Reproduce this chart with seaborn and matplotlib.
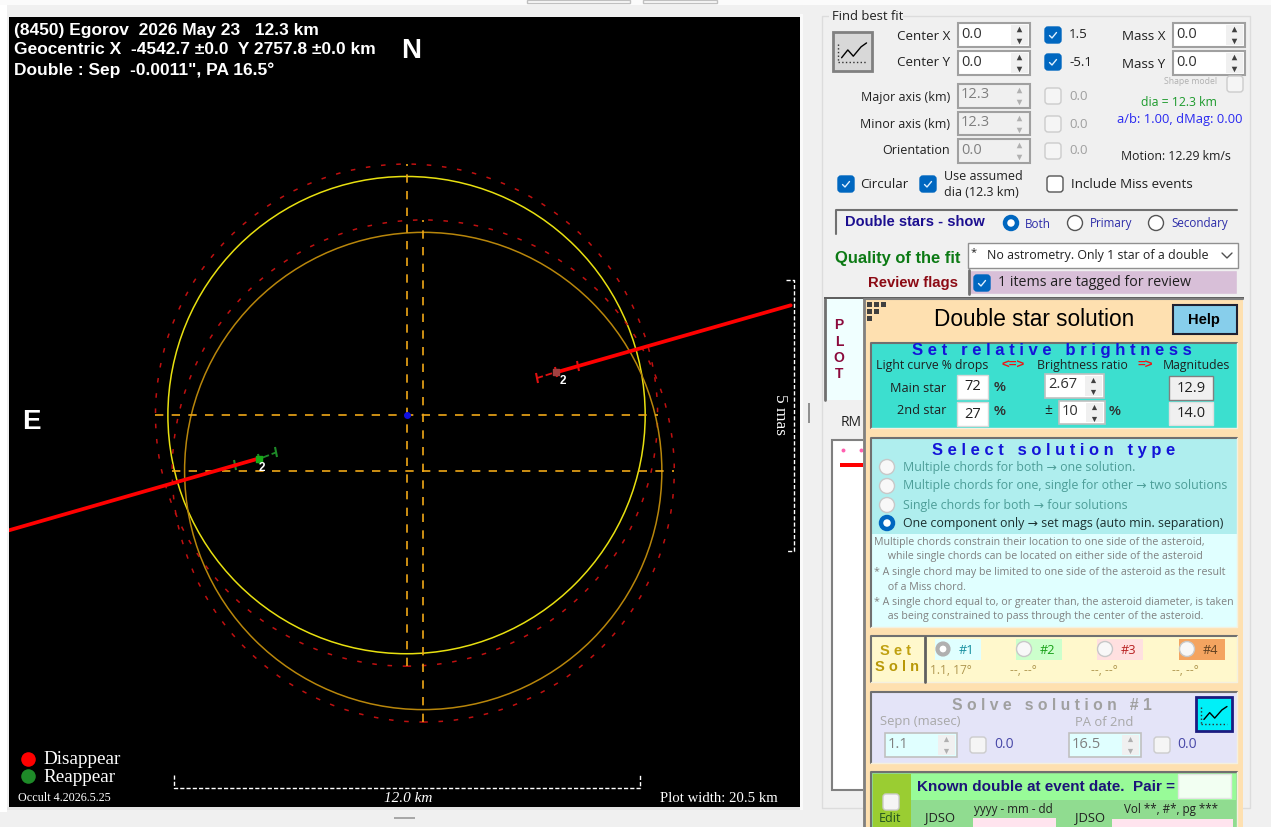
import pandas as pd
import seaborn as sns
import matplotlib.pyplot as plt
from matplotlib.markers import MarkerStyle
from matplotlib.patches import Circle, Rectangle, FancyBboxPatch
from matplotlib.transforms import Affine2D

# --- chart values, all km from the centre of the first asteroid outline
CENTER_X = [0.0, 0.43]
CENTER_Y = [0.0, -1.44]
ASTEROID_RADIUS = 6.15
OUTER_RADIUS = 6.47
CHORD_D_X = [-10.25, -3.85]
CHORD_D_Y = [-2.97, -1.13]
CHORD_R_X = [3.85, 9.9]
CHORD_R_Y = [1.1, 2.83]
ERR_GREEN_X = [-4.42, -3.8, -3.36]
ERR_GREEN_Y = [-1.29, -1.13, -0.96]
ERR_RED_X = [3.35, 3.85, 4.43]
ERR_RED_Y = [0.95, 1.11, 1.27]
SCALE_KM = 12.0
MAS_BAR = [-3.5, 3.48]

HEADER = ["(8450) Egorov  2026 May 23   12.3 km",
          "Geocentric X  -4542.7 ±0.0  Y 2757.8 ±0.0 km",
          "Double : Sep  -0.0011\", PA 16.5°"]
RADIO_TEXT = ["Multiple chords for both → one solution.",
              "Multiple chords for one, single for other → two solutions",
              "Single chords for both → four solutions",
              "One component only → set mags (auto min. separation)"]
NOTES = ["Multiple chords constrain their location to one side of the asteroid,",
         "     while single chords can be located on either side of the asteroid",
         "* A single chord may be limited to one side of the asteroid as the result",
         "     of a Miss chord.",
         "* A single chord equal to, or greater than, the asteroid diameter, is taken",
         "     as being constrained to pass through the center of the asteroid."]

W, H = 1271, 827
sns.set_theme(style="white")
plt.rcParams['font.family'] = ['Open Sans', 'DejaVu Sans']

fig = plt.figure(figsize=(W / 100, H / 100), dpi=100, facecolor="#f0f0f0")

# plot area, in km
ax = fig.add_axes([9 / W, 1 - 807 / H, 791 / W, 790 / H])
ax.set_facecolor("black")
ax.set_xlim(-10.245, 10.14)
ax.set_ylim(-10.10, 10.26)
ax.set_xticks([])
ax.set_yticks([])
for s in ax.spines.values():
    s.set_visible(False)

for cx, cy, col in zip(CENTER_X, CENTER_Y, ["#e8e010", "#b8860b"]):
    ax.add_patch(Circle((cx, cy), ASTEROID_RADIUS, fill=False, ec=col, lw=1.1))
    ax.add_patch(Circle((cx, cy), OUTER_RADIUS, fill=False, ec="#c01010", lw=1.1, ls=(0, (3, 7))))
    for xs, ys in [([cx - OUTER_RADIUS, cx + OUTER_RADIUS], [cy, cy]),
                   ([cx, cx], [cy - OUTER_RADIUS, cy + OUTER_RADIUS])]:
        ax.plot(xs, ys, color="#f0a818", lw=1.2, ls=(0, (5, 5)))

ax.scatter([CENTER_X[0]], [CENTER_Y[0]], s=16, color="#1010e0", zorder=4)

# error bars are ticked square to the chord
tick = MarkerStyle("|", transform=Affine2D().rotate_deg(16))
err = pd.DataFrame({"x": ERR_GREEN_X, "y": ERR_GREEN_Y})
sns.lineplot(data=err, x="x", y="y", ax=ax, color="#1e8a28", lw=1.3, ls="--",
             marker=tick, ms=7, mew=1.5, mec="#1e8a28", estimator=None, sort=False)
err = pd.DataFrame({"x": ERR_RED_X, "y": ERR_RED_Y})
sns.lineplot(data=err, x="x", y="y", ax=ax, color="#e01010", lw=1.3, ls="--",
             marker=tick, ms=7, mew=1.5, mec="#e01010", estimator=None, sort=False)
for xs, ys in [(CHORD_D_X, CHORD_D_Y), (CHORD_R_X, CHORD_R_Y)]:
    sns.lineplot(x=xs, y=ys, ax=ax, color="#ff0000", lw=2.7, estimator=None, sort=False)
ax.scatter([CHORD_D_X[1] + 0.05], [CHORD_D_Y[1]], marker="s", s=20, color="#18a818", zorder=5)
ax.scatter([CHORD_R_X[0]], [CHORD_R_Y[0]], marker="s", s=14, color="#a04040", zorder=5)
ax.set_xlabel("")
ax.set_ylabel("")

# 12 km scale bar and 5 mas bar
sx = [-5.99, -5.99, -5.99 + SCALE_KM, -5.99 + SCALE_KM]
sy = [-9.27, -9.6, -9.6, -9.27]
ax.plot(sx, sy, color="white", lw=1, ls=(0, (3, 1.5)))
mx = [9.78, 9.98, 9.98, 9.78]
ax.plot(mx, [MAS_BAR[1], MAS_BAR[1], MAS_BAR[0], MAS_BAR[0]], color="white", lw=1, ls=(0, (3, 1.5)))

# everything else is placed in screen pixels on a full-figure overlay
ui = fig.add_axes([0, 0, 1, 1], facecolor="none")
ui.set_xlim(0, W)
ui.set_ylim(H, 0)
ui.axis("off")


def box(x0, y0, x1, y1, fc="white", ec="none", lw=1.0, z=2):
    ui.add_patch(Rectangle((x0, y0), x1 - x0, y1 - y0, fc=fc, ec=ec, lw=lw, zorder=z))


def txt(x, y, s, size=9.6, color="#202020", weight="normal", ha="left", family=None, z=8, **kw):
    fam = family if family else ['Open Sans', 'DejaVu Sans']
    ui.text(x, y, s, fontsize=size, color=color, fontweight=weight, ha=ha, va="center",
            family=fam, zorder=z, **kw)


SANS = ['Liberation Sans', 'DejaVu Sans']
SERIF = ['Liberation Serif', 'DejaVu Serif']


def check(x, y, on=False, enabled=True, z=5):
    fc = "#0067c0" if on else ("white" if enabled else "#f5f5f5")
    ec = "#0067c0" if on else ("#555555" if enabled else "#cccccc")
    ui.add_patch(FancyBboxPatch((x + 2, y + 2), 12, 12, boxstyle="round,pad=2,rounding_size=3",
                                fc=fc, ec=ec, lw=1, zorder=z))
    if on:
        ui.plot([x + 4.5, x + 7, x + 11.5], [y + 8.5, y + 11, y + 5.5], color="#dff0ff", lw=1, zorder=z + 1)


def radio(cx, cy, on=False, color="#0067c0", enabled=True):
    if on:
        ui.add_patch(Circle((cx, cy), 6, fc="white", ec=color, lw=3.2, zorder=7))
    else:
        ui.add_patch(Circle((cx, cy), 7.5, fc="#f8f8f8" if not enabled else "white",
                            ec="#c8c8c8" if not enabled else "#555555", lw=1, zorder=7))


def spin(x0, y0, x1, y1, s, enabled=True, fc="white", tc=None):
    box(x0, y0, x1, y1, fc=fc if enabled else "#f0f0f0", ec="#a0a0a0", lw=1.5, z=3)
    col = "#808080" if not enabled else "#303030"
    box(x1 - 19, y0 + 2, x1 - 2, y1 - 2, fc="#f0f0f0", z=4)
    mid = (y0 + y1) / 2
    acol = "#b0b0b0" if not enabled else "#404040"
    ui.scatter([x1 - 11], [mid - 6], marker="^", s=16, color=acol, zorder=5, lw=0)
    ui.scatter([x1 - 11], [mid + 6], marker="v", s=16, color=acol, zorder=5, lw=0)
    txt(x0 + 3, mid - 1, s, size=10.5, color=tc or col)


def chart_icon(x0, y0, x1, y1, fc, ec, lw, z=4):
    box(x0, y0, x1, y1, fc=fc, ec=ec, lw=lw, z=z)
    w, h = x1 - x0, y1 - y0
    ui.plot([x0 + w * f for f in (0.22, 0.38, 0.52, 0.72, 0.86)],
            [y0 + h * f for f in (0.66, 0.46, 0.62, 0.38, 0.28)], color="black", lw=1, zorder=z + 1)
    ui.plot([x0 + w * 0.14] * 2, [y0 + h * 0.3, y0 + h * 0.78], color="#303030", lw=1, ls=":", zorder=z + 1)
    ui.plot([x0 + w * 0.14, x0 + w * 0.86], [y0 + h * 0.78] * 2, color="#303030", lw=1, ls=":", zorder=z + 1)


# window chrome around the plot
box(0, 0, W, 5, fc="#fbfbfb", z=0)
box(0, 5, 7, 812, fc="white", z=0)
box(527, 0, 630, 3, fc="white", ec="#c0c0c0", z=1)
box(643, 0, 717, 3, fc="white", ec="#c0c0c0", z=1)
box(7, 807, 803, 810, fc="#e4e4e4", z=1)
box(800, 14, 803, 810, fc="#fafafa", z=1)
box(394, 817, 415, 819, fc="#a8a8a8", z=1)
box(808, 403, 810, 423, fc="#909090", z=1)

# plot labels
for i, line in enumerate(HEADER):
    txt(14, 30 + i * 20, line, size=12.5, color="white", weight="bold", family=SANS)
txt(411, 51, "N", size=20, color="white", weight="bold", ha="center", family=SANS)
txt(31, 422, "E", size=20, color="white", weight="bold", ha="center", family=SANS)
txt(780, 415, "5 mas", size=12.5, color="white", ha="center", family=SERIF, rotation=-90)
txt(408, 799, "12.0 km", size=11, color="white", ha="center", family=SERIF, style="italic")
txt(660, 799, "Plot width: 20.5 km", size=10.6, color="white", family=SERIF)
txt(18, 798, "Occult 4.2026.5.25", size=8.7, color="white", family=SERIF)
ui.scatter([28], [759], s=110, color="#ff0000", zorder=5, lw=0)
ui.scatter([28], [776], s=110, color="#1e8a28", zorder=5, lw=0)
txt(43, 759, "Disappear", size=13.8, color="white", family=SERIF)
txt(43, 777, "Reappear", size=13.8, color="white", family=SERIF)
txt(563, 381, "2", size=8.5, color="white", ha="center", family=SANS, weight="bold")
txt(262, 468, "2", size=8.5, color="white", ha="center", family=SANS, weight="bold")

# Find best fit group
box(822, 16, 1250, 808, fc="#f0f0f0", ec="#dcdcdc", lw=1, z=1)
box(829, 12, 903, 22, fc="#f0f0f0", z=1.5)
txt(832, 17, "Find best fit", size=9.4)
chart_icon(833, 32, 872, 71, "#d8d8d8", "#808080", 2)
for y, s in [(36, "Center X"), (63, "Center Y")]:
    txt(950, y, s, ha="right")
for y, s in [(97, "Major axis (km)"), (125, "Minor axis (km)"), (151, "Orientation")]:
    txt(950, y, s, ha="right", size=9.0)
spin(958, 23, 1030, 47, "0.0")
spin(958, 51, 1030, 75, "0.0")
spin(958, 84, 1030, 108, "12.3", enabled=False)
spin(958, 112, 1030, 135, "12.3", enabled=False)
spin(958, 139, 1030, 163, "0.0", enabled=False)
check(1045, 27, on=True)
check(1045, 54, on=True)
txt(1069, 35, "1.5")
txt(1069, 62, "-5.1")
for y0, yt in [(88, 96), (116, 124), (143, 151)]:
    check(1045, y0, enabled=False)
    txt(1069, yt, "0.0", color="#a0a0a0")
txt(1165, 37, "Mass X", ha="right")
txt(1165, 64, "Mass Y", ha="right")
spin(1173, 23, 1245, 47, "0.0")
spin(1173, 51, 1245, 75, "0.0")
txt(1217, 81, "Shape model", size=6.2, color="#b0b0b0", ha="right")
check(1227, 76, enabled=False)
txt(1179, 102, "dia = 12.3 km", size=8.8, color="#1c9a2c", ha="center")
txt(1180, 119, "a/b: 1.00, dMag: 0.00", size=9.3, color="#2828f0", ha="center")
txt(1121, 156, "Motion: 12.29 km/s", size=8.8)
check(838, 176, on=True)
txt(860, 185, "Circular")
check(920, 176, on=True)
txt(944, 176, "Use assumed", size=9)
txt(944, 192, "dia (12.3 km)", size=9)
check(1047, 176)
txt(1071, 185, "Include Miss events")

box(835, 209, 1237, 234, fc="#f0f0f0", z=2)
ui.plot([836, 836, 1237], [234, 210, 210], color="#707070", lw=1.5, zorder=3)
txt(845, 222, "Double stars - show", size=10.5, color="#1c0f90", weight="bold", family=SANS)
radio(1011, 223, on=True)
txt(1025, 224, "Both", size=8.4, color="#2c2ca8")
radio(1075, 223)
txt(1090, 224, "Primary", size=8.4, color="#2c2ca8")
radio(1156, 223)
txt(1171, 224, "Secondary", size=8.4, color="#2c2ca8")

txt(835, 258, "Quality of the fit", size=11.9, color="#0c7a14", weight="bold", family=SANS)
box(968, 243, 1238, 268, fc="white", ec="#909090", lw=1, z=3)
txt(971, 253, "*", size=8)
txt(987, 255, "No astrometry. Only 1 star of a double", size=8.9)
ui.plot([1222, 1227, 1232], [253, 258, 253], color="#505050", lw=1, zorder=5)
txt(958, 283, "Review flags", size=10.7, color="#8c0a14", weight="bold", ha="right", family=SANS)
box(968, 270, 1237, 294, fc="#d8bfd8", ec="#f0f0f0", z=3)
ui.plot([969, 969], [270, 294], color="#707070", lw=2, zorder=4)
check(974, 275, on=True)
txt(998, 283, "1 items are tagged for review", size=10.3)

# PLOT tab behind the dialog
box(825, 299, 870, 400, fc="#f0ffff", z=2)
ui.plot([825, 825], [299, 400], color="#707070", lw=2, zorder=3)
box(824, 297, 1244, 299, fc="#606060", z=3)
for y, s in zip([325, 342, 358, 374], "PLOT"):
    txt(839, y, s, size=10, color="#8b0a3c", weight="bold", ha="center", family=SANS)
txt(841, 422, "RM", size=10)
box(832, 440, 870, 790, fc="white", ec="#808080", lw=1.5, z=2)
ui.scatter([843, 861], [450, 450], s=8, color="#ff60b0", zorder=3, lw=0)
box(840, 463, 870, 467, fc="#ff0000", z=3)

# Double star solution dialog
box(863, 299, 1243, 827, fc="#fee0b0", z=4)
ui.plot([864, 864], [299, 827], color="#808080", lw=2, zorder=5)
ui.plot([864, 1243], [299, 299], color="#808080", lw=1.5, zorder=5)
for x, y in [(867, 302), (874, 302), (881, 302), (867, 309), (874, 309), (867, 316)]:
    box(x, y, x + 5, y + 5, fc="#404040", z=6)
txt(1034, 320, "Double star solution", size=16.3, color="black", ha="center", family=SANS)
box(1173, 305, 1237, 334, fc="#87ceeb", ec="#202030", lw=1.5, z=6)
txt(1204, 320, "Help", size=10.5, color="black", weight="bold", ha="center", family=SANS)


def zbox(x0, y0, x1, y1, fc):
    box(x0, y0, x1, y1, fc=fc, ec="none", z=5)
    ui.plot([x0, x0, x1], [y1, y0, y0], color="#707070", lw=1.5, zorder=5.2)
    ui.plot([x1, x1, x0], [y0, y1, y1], color="#f4f0e0", lw=1, zorder=5.2)


def dlg_input(x0, y0, x1, y1, s, fc="white", ec="#d8d8d8"):
    box(x0, y0, x1, y1, fc=fc, ec=ec, lw=1, z=6)
    txt((x0 + x1) / 2, (y0 + y1) / 2, s, size=10.5, ha="center")


def dlg_spin(x0, y0, x1, y1, s, fc="white", col="#303030", acol="#404040"):
    box(x0, y0, x1, y1, fc=fc, ec="#c0c0c0", lw=1.2, z=6)
    box(x1 - 19, y0 + 2, x1 - 2, y1 - 2, fc="#f0f0f0", z=6.2)
    mid = (y0 + y1) / 2
    ui.scatter([x1 - 11], [mid - 6], marker="^", s=14, color=acol, zorder=7, lw=0)
    ui.scatter([x1 - 11], [mid + 6], marker="v", s=14, color=acol, zorder=7, lw=0)
    txt(x0 + 3, mid - 1, s, size=10.5, color=col)


# brightness box
zbox(871, 343, 1237, 428, "#3cdfcf")
txt(1052, 351, "S e t   r e l a t i v e   b r i g h t n e s s", size=12, color="#1414d8", weight="bold", ha="center", family=SANS)
txt(876, 366, "Light curve % drops", size=8.8)
txt(1001, 366, "<=>", size=9.6, color="#ee1414", weight="bold", family=SANS)
txt(1037, 366, "Brightness ratio", size=8.8)
txt(1137, 366, "=>", size=9.6, color="#ee1414", weight="bold", family=SANS)
txt(1163, 366, "Magnitudes", size=8.8)
txt(946, 388, "Main star", size=9.2, ha="right")
txt(946, 411, "2nd star", size=9.2, ha="right")
dlg_input(957, 375, 988, 399, "72")
dlg_input(957, 402, 988, 426, "27")
txt(1000, 388, "%", size=9.5, weight="bold", ha="center", family=SANS, color="#303030")
txt(1000, 412, "%", size=9.5, weight="bold", ha="center", family=SANS, color="#303030")
dlg_spin(1045, 374, 1104, 398, "2.67")
txt(1048, 411, "±", size=10, ha="center")
dlg_spin(1059, 401, 1105, 424, "10")
txt(1115, 412, "%", size=9.5, weight="bold", ha="center", family=SANS, color="#303030")
dlg_input(1169, 376, 1213, 400, "12.9", fc="#f0f0f0", ec="#808080")
dlg_input(1169, 402, 1213, 425, "14.0", fc="#f0f0f0", ec="#e0e0e0")

# solution type box
zbox(871, 438, 1237, 627, "#e0ffff")
box(872, 439, 1237, 534, fc="#afeeee", z=5.1)
txt(1054, 450, "S e l e c t   s o l u t i o n   t y p e", size=11.9, color="#1414d8", weight="bold", ha="center", family=SANS)
for i, (y, s) in enumerate(zip([467, 486, 505, 523], RADIO_TEXT)):
    sel = i == 3
    radio(887, y, on=sel, enabled=sel)
    txt(903, y, s, size=8.9, color="#1c3030" if sel else "#4d9e98")
for y, s in zip([542, 557, 572, 587, 602, 617], NOTES):
    txt(874, y, s, size=7.65, color="#808080")

# set solution box
zbox(871, 636, 1237, 682, "#fff8cc")
ui.plot([925, 925], [637, 682], color="#606060", lw=2, zorder=6)
txt(895, 651, "S e t", size=10.5, color="#c0a010", weight="bold", ha="center", family=SANS)
txt(897, 667, "S o l n", size=10.5, color="#b89808", weight="bold", ha="center", family=SANS)
soln = [(935, "#e0ffff", "#1890a0", "#1"), (1016, "#ccffcc", "#18a018", "#2"),
        (1097, "#ffe0e0", "#b82020", "#3"), (1179, "#f4a460", "#604020", "#4")]
for k, (x, bg, tc, s) in enumerate(soln):
    box(x, 639, x + 46, 660, fc=bg, z=6)
    if k == 0:
        ui.add_patch(Circle((x + 8, 649), 5.5, fc="white", ec="#b0b0b0", lw=3, zorder=7))
    else:
        ui.add_patch(Circle((x + 8, 649), 7.5, fc="#f8f8f8", ec="#c8c8c8", lw=1, zorder=7))
    txt(x + 24, 650, s, size=9.2, color=tc)
txt(930, 671, "1.1, 17°", size=8.6, color="#b09850")
for x in (1010, 1091, 1172):
    txt(x, 671, "--, --°", size=8.6, color="#b09850")

# solve box
zbox(871, 692, 1237, 763, "#e4e4f8")
txt(1052, 705, "S o l v e   s o l u t i o n   # 1", size=11.3, color="#a0a0a0", weight="bold", ha="center", family=SANS)
chart_icon(1196, 697, 1232, 731, "#00f0f8", "#1c1c80", 2, z=6)
txt(880, 722, "Sepn (masec)", size=9.4, color="#a8a8a8")
txt(1075, 722, "PA of 2nd", size=9.4, color="#a8a8a8")
dlg_spin(885, 733, 957, 757, "1.1", fc="#e0ffff", col="#808080", acol="#b0b0b0")
dlg_spin(1069, 733, 1141, 757, "16.5", fc="#e0ffff", col="#808080", acol="#b0b0b0")
check(970, 737, enabled=False, z=7)
check(1154, 737, enabled=False, z=7)
txt(994, 745, "0.0", size=10, color="#4848a8")
txt(1177, 745, "0.0", size=10, color="#4848a8")

# known double box
zbox(871, 772, 1237, 828, "#90dc90")
box(873, 774, 911, 827, fc="#9acd32", z=5.1)
box(911, 774, 1236, 800, fc="#98fb98", z=5.1)
txt(917, 787, "Known double at event date.  Pair =", size=11, color="#1c1478", weight="bold", family=SANS)
box(1178, 774, 1231, 798, fc="#f2fff2", ec="#e4e4e4", z=6)
check(883, 794, enabled=False, z=7)
txt(879, 818, "Edit", size=9, color="#205020")
txt(925, 818, "JDSO", size=9.4, color="#202020")
txt(1075, 818, "JDSO", size=9.4, color="#202020")
txt(974, 809, "yyyy - mm - dd", size=8.4, color="#202020")
txt(1124, 809, "Vol **, #*, pg ***", size=8.4, color="#202020")
box(973, 818, 1056, 828, fc="#ffe4ee", z=6)
box(1112, 819, 1233, 828, fc="#ffe4ee", z=6)

fig.savefig("out.png", dpi=100, facecolor=fig.get_facecolor())
plt.close(fig)
